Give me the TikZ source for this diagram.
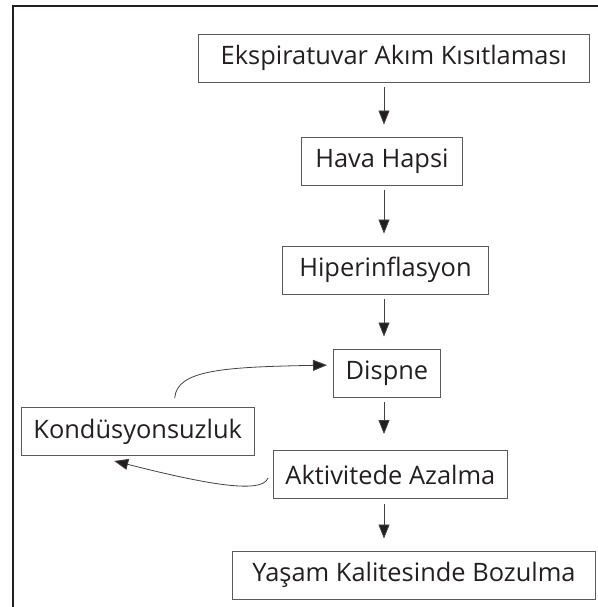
\documentclass[tikz,border=0pt]{standalone}
\usepackage{fontspec}
\setmainfont{Open Sans}
\usetikzlibrary{arrows.meta}
\definecolor{ink}{HTML}{231F20}
\definecolor{edge}{HTML}{5A5A5A}

\begin{document}
\begin{tikzpicture}[x=1bp, y=-1bp,
    box/.style={draw=edge, line width=0.9bp, minimum height=48bp, inner xsep=12bp, anchor=west, text=ink, font=\fontsize{25.5}{30}\selectfont},
    flow/.style={draw=ink!85, line width=0.8bp, -{Triangle[length=14bp,width=11bp,fill=ink]}, shorten <=5bp, shorten >=12bp}]
    % Page size and frame
    \useasboundingbox (0,0) rectangle (598,607);
    \draw[ink, line width=1.3bp] (13,607) -- (13,6) -- (598,6);

    % Place the boxes
    \node[box, minimum width=391bp] (eks) at (198,58) {Ekspiratuvar Akım Kısıtlaması};
    \node[box, minimum width=161bp] (hava) at (301,161) {Hava Hapsi};
    \node[box, minimum width=206bp] (hiper) at (282,270) {Hiperinflasyon};
    \node[box, minimum width=107bp] (dispne) at (333,373) {Dispne};
    \node[box, minimum width=231bp] (kond) at (21,431.5) {Kondüsyonsuzluk};
    \node[box, minimum width=233bp] (akt) at (273,474.5) {Aktivitede Azalma};
    \node[box, minimum width=363bp] (yasam) at (232,575) {Yaşam Kalitesinde Bozulma};
    \coordinate (axis) at (384,0);

    % Draw the arrows
    \draw[flow] (eks.south -| axis) -- (hava.north -| axis);
    \draw[flow] (hava.south -| axis) -- (hiper.north -| axis);
    \draw[flow] (hiper.south -| axis) -- (dispne.north -| axis);
    \draw[flow, shorten >=16bp] (dispne.south -| axis) -- (akt.north -| axis);
    \draw[flow] (akt.south -| axis) -- (yasam.north -| axis);

    % Draw the loop back to Dispne
    \draw[flow, shorten <=0bp, shorten >=6bp] ([xshift=37bp,yshift=9bp]kond.north) .. controls +(2,-28) and +(-110,2) .. ([yshift=8bp]dispne.west);
    \draw[flow, shorten <=0bp, shorten >=0bp] ([xshift=-5bp,yshift=-3.5bp]akt.west) .. controls +(-6,17) and +(87,22) .. ([xshift=-23.5bp,yshift=-5bp]kond.south);
\end{tikzpicture}
\end{document}
